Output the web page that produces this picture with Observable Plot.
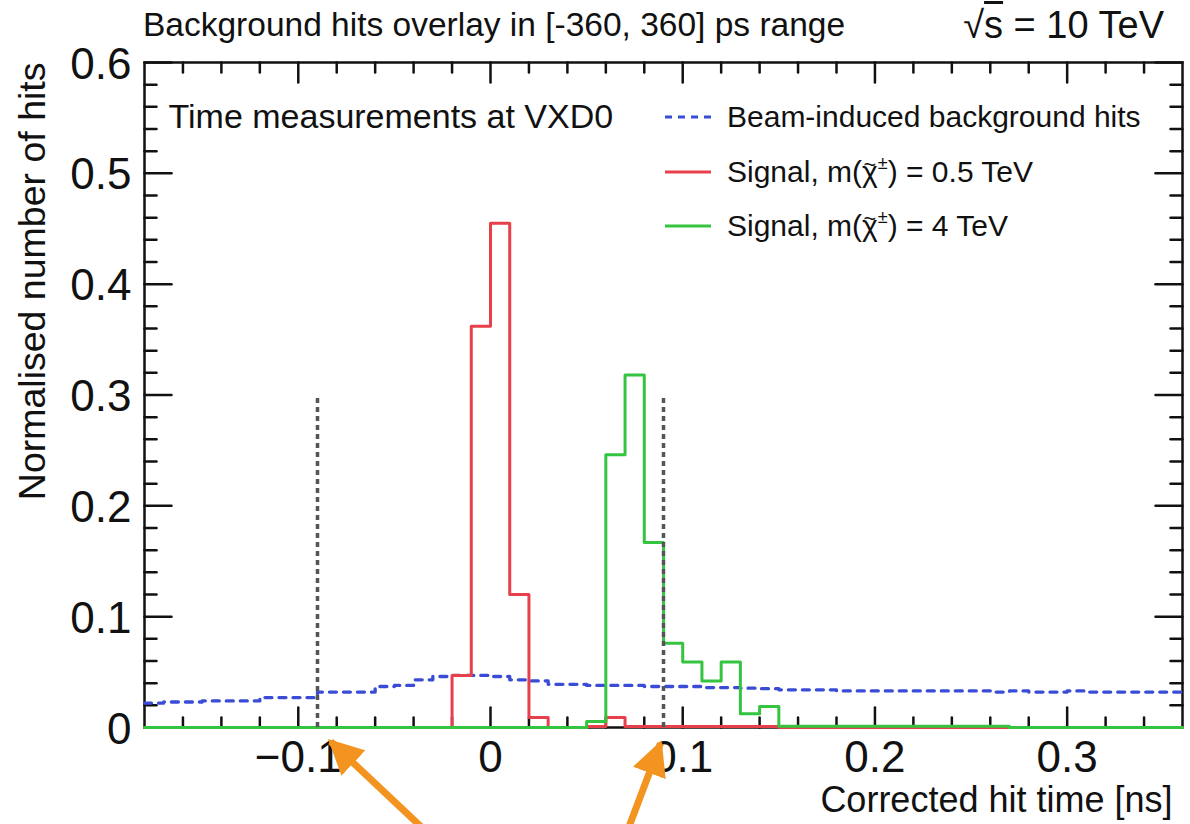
<!DOCTYPE html>
<html>
<head>
<meta charset="utf-8">
<script src="https://cdn.jsdelivr.net/npm/d3@7"></script>
<script src="https://cdn.jsdelivr.net/npm/@observablehq/plot@0.6"></script>
<style>
  body { margin: 0; background: #fff; }
  #wrap { position: relative; width: 1190px; height: 824px; font-family: "Liberation Sans", Arial, sans-serif; color: #111; }
  .ov { position: absolute; white-space: nowrap; line-height: 1; }
  .ov sup { font-size: 0.6em; vertical-align: 0.7em; line-height: 0; }
  .tl { position: relative; display: inline-block; }
  .tl::after { content: "~"; position: absolute; left: 0; right: 0; top: -0.16em; text-align: center; font-size: 0.72em; }
</style>
</head>
<body>
<div id="wrap"></div>
<script>
// ---------- data ----------
const binEdges = d3.range(55).map(i => Math.round((-0.18 + i * 0.01) * 100) / 100);

// Beam-induced background hits (bins of 0.01 ns from -0.18 to 0.36)
const background = [
  0.022, 0.023, 0.023, 0.024, 0.024, 0.024, 0.027, 0.027, 0.027, 0.032,
  0.032, 0.032, 0.037, 0.038, 0.043, 0.046, 0.047, 0.047, 0.046, 0.043,
  0.042, 0.039, 0.039, 0.038, 0.038, 0.038, 0.037, 0.037, 0.037, 0.036,
  0.036, 0.0355, 0.035, 0.034, 0.034, 0.034, 0.033, 0.033, 0.033, 0.033,
  0.033, 0.033, 0.033, 0.033, 0.032, 0.033, 0.032, 0.032, 0.033, 0.032,
  0.032, 0.032, 0.032, 0.032
];
// Signal, m = 0.5 TeV
const signal05 = [
  0, 0, 0, 0, 0, 0, 0, 0, 0, 0,
  0, 0, 0, 0, 0, 0, 0.047, 0.362, 0.455, 0.120,
  0.009, 0, 0, 0.0008, 0.009, 0.0008, 0.0008, 0.0008, 0.0008, 0.0008,
  0.0008, 0.0008, 0.0008, 0, 0, 0, 0, 0, 0, 0,
  0, 0, 0, 0, 0, 0, 0, 0, 0, 0,
  0, 0, 0, 0
];
// Signal, m = 4 TeV
const signal4 = [
  0, 0, 0, 0, 0, 0, 0, 0, 0, 0,
  0, 0, 0, 0, 0, 0, 0, 0, 0, 0,
  0, 0, 0, 0.0055, 0.246, 0.318, 0.167, 0.076, 0.059, 0.042,
  0.059, 0.0125, 0.019, 0.0012, 0.0012, 0.0012, 0.0012, 0.0012, 0.0012, 0.0012,
  0.0012, 0.0012, 0.0012, 0.0012, 0.0012, 0, 0, 0, 0, 0,
  0, 0, 0, 0
];

const xMajor = [-0.1, 0, 0.1, 0.2, 0.3];
const xMinor = [-0.16, -0.14, -0.12, -0.08, -0.06, -0.04, -0.02, 0.02, 0.04, 0.06, 0.08,
                0.12, 0.14, 0.16, 0.18, 0.22, 0.24, 0.26, 0.28, 0.32, 0.34];
const yMajor = [0, 0.1, 0.2, 0.3, 0.4, 0.5, 0.6];
const yMinor = [0.02, 0.04, 0.06, 0.08, 0.12, 0.14, 0.16, 0.18, 0.22, 0.24, 0.26, 0.28,
                0.32, 0.34, 0.36, 0.38, 0.42, 0.44, 0.46, 0.48, 0.52, 0.54, 0.56, 0.58];

const cutLines = [-0.09, 0.09];
const cutTop = 0.3;

// annotation arrows (data units, below the axis)
const arrows = [
  {x1: -0.034, y1: -0.093, x2: -0.0832, y2: -0.0126},
  {x1: 0.0713, y1: -0.093, x2: 0.0884, y2: -0.0144}
];

const titleText = "Background hits overlay in [-360, 360] ps range";
const xTitle = "Corrected hit time [ns]";
const yTitle = "Normalised number of hits";
const noteText = "Time measurements at VXD0";
const chiTilde = '<span class="tl">χ</span><sup>±</sup>';
const legendLabels = [
  "Beam-induced background hits",
  "Signal, m(" + chiTilde + ") = 0.5 TeV",
  "Signal, m(" + chiTilde + ") = 4 TeV"
];

// ---------- styles ----------
const BLUE = "#3a4cd6", RED = "#e8404a", GREEN = "#35c440", ORANGE = "#f39420";
const legendColors = [BLUE, RED, GREEN];
const legendDash = ["7,6", null, null];

const steps = vals => binEdges.map((e, i) => ({x: e, y: vals[Math.min(i, vals.length - 1)]}));
const fmt = d => d === 0 ? "0" : (d < 0 ? "\u2212" + String(-d) : String(d));
const tickShape = {draw(ctx, l) { ctx.moveTo(0, 0); ctx.lineTo(0, -l); }};
const tk = {anchor: "start", shape: tickShape, stroke: "#111", strokeWidth: 2.5};

const chart = Plot.plot({
  width: 1190, height: 824,
  marginTop: 62, marginBottom: 97, marginLeft: 144, marginRight: 8,
  x: {domain: [-0.18, 0.36], label: null},
  y: {domain: [0, 0.6], label: null},
  style: {fontFamily: "'Liberation Sans', Arial, sans-serif", color: "#111", background: "white"},
  marks: [
    Plot.frame({stroke: "#111", strokeWidth: 2.5}),
    // inward ticks on all four sides
    Plot.vectorX(xMinor, {x: d => d, frameAnchor: "bottom", rotate: 0, length: 10, ...tk}),
    Plot.vectorX(xMajor, {x: d => d, frameAnchor: "bottom", rotate: 0, length: 20, ...tk}),
    Plot.vectorX(xMinor, {x: d => d, frameAnchor: "top", rotate: 180, length: 10, ...tk}),
    Plot.vectorX(xMajor, {x: d => d, frameAnchor: "top", rotate: 180, length: 20, ...tk}),
    Plot.vectorY(yMinor, {y: d => d, frameAnchor: "left", rotate: 90, length: 12, ...tk}),
    Plot.vectorY(yMajor, {y: d => d, frameAnchor: "left", rotate: 90, length: 27, ...tk}),
    Plot.vectorY(yMinor, {y: d => d, frameAnchor: "right", rotate: -90, length: 12, ...tk}),
    Plot.vectorY(yMajor, {y: d => d, frameAnchor: "right", rotate: -90, length: 27, ...tk}),
    // tick labels
    Plot.axisX(xMajor, {anchor: "bottom", tickSize: 0, tickPadding: 13, tickFormat: fmt, fontSize: 44}),
    Plot.axisY(yMajor, {anchor: "left", tickSize: 0, tickPadding: 13, tickFormat: fmt, fontSize: 44, dy: 2}),
    // axis titles
    Plot.text([yTitle], {frameAnchor: "top-left", rotate: -90, textAnchor: "end", lineAnchor: "middle",
                         dx: 32 - 144, dy: 0, fontSize: 37.5}),
    Plot.text([xTitle], {frameAnchor: "bottom-right", textAnchor: "end", lineAnchor: "middle",
                         dx: -10, dy: 73, fontSize: 36}),
    Plot.text([noteText], {frameAnchor: "top-left", textAnchor: "start", lineAnchor: "middle",
                           dx: 24, dy: 55, fontSize: 34}),
    // histograms
    Plot.line(steps(background), {x: "x", y: "y", curve: "step-after", stroke: BLUE, strokeWidth: 3.3, strokeDasharray: "7,7"}),
    Plot.line(steps(signal05), {x: "x", y: "y", curve: "step-after", stroke: RED, strokeWidth: 3}),
    Plot.line(steps(signal4), {x: "x", y: "y", curve: "step-after", stroke: GREEN, strokeWidth: 3}),
    Plot.ruleX(cutLines, {y1: 0, y2: cutTop, stroke: "#555", strokeWidth: 3.5, strokeDasharray: "5,4"}),
    // annotation arrows
    Plot.link(arrows, {x1: "x1", y1: "y1", x2: "x2", y2: "y2", stroke: ORANGE, strokeWidth: 7, className: "ann"})
  ]
});

// filled arrow heads
const svg = d3.select(chart);
svg.append("defs").append("marker")
  .attr("id", "ahead").attr("viewBox", "0 0 10 10")
  .attr("refX", 9).attr("refY", 5)
  .attr("markerWidth", 5).attr("markerHeight", 5)
  .attr("orient", "auto")
  .append("path").attr("d", "M0,0L10,5L0,10Z").attr("fill", ORANGE);
svg.selectAll("g.ann path").attr("marker-end", "url(#ahead)");

const wrap = document.getElementById("wrap");
wrap.append(chart);

function overlay(html, css) {
  const d = document.createElement("div");
  d.className = "ov";
  d.innerHTML = html;
  Object.assign(d.style, css);
  wrap.append(d);
  return d;
}
// title line
overlay(titleText, {left: "143px", top: (25 - 17) + "px", fontSize: "33.5px"});
overlay('\u221A<span style="text-decoration: overline">s</span> = 10 TeV',
        {right: (1190 - 1164) + "px", top: (25 - 19) + "px", fontSize: "38px"});

// legend
const legendY = [117, 172, 226];
legendLabels.forEach((lab, i) => {
  const sw = document.createElementNS("http://www.w3.org/2000/svg", "svg");
  sw.setAttribute("width", 46); sw.setAttribute("height", 8);
  sw.style.position = "absolute"; sw.style.left = "665px"; sw.style.top = (legendY[i] - 4) + "px";
  const ln = document.createElementNS("http://www.w3.org/2000/svg", "line");
  ln.setAttribute("x1", 0); ln.setAttribute("x2", 46); ln.setAttribute("y1", 4); ln.setAttribute("y2", 4);
  ln.setAttribute("stroke", legendColors[i]); ln.setAttribute("stroke-width", 3);
  if (legendDash[i]) ln.setAttribute("stroke-dasharray", legendDash[i]);
  sw.append(ln);
  wrap.append(sw);
  overlay(lab, {left: "727px", top: (legendY[i] - 15) + "px", fontSize: "30px"});
});
</script>
</body>
</html>
